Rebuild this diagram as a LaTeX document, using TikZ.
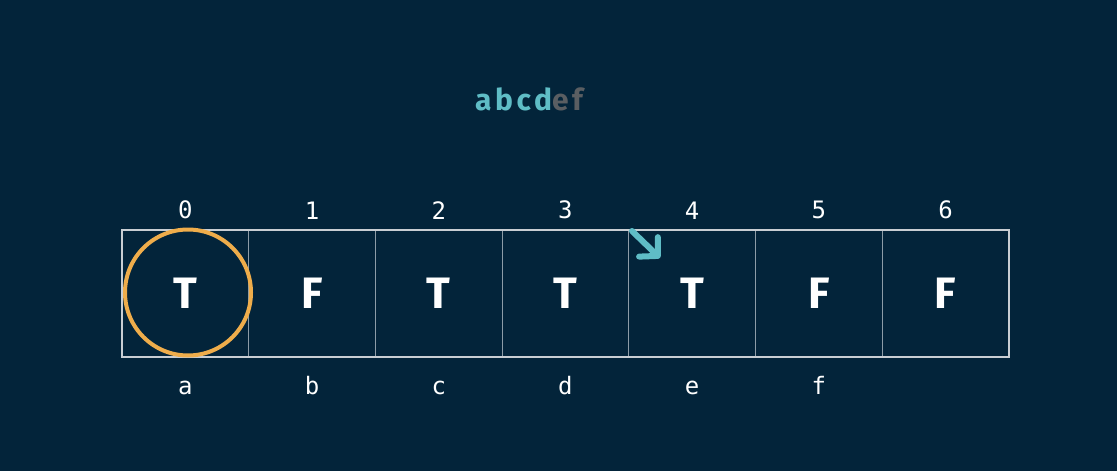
\documentclass[tikz,border=0pt]{standalone}
\usepackage{fontspec}
\setmainfont{Fira Sans}
\setmonofont{DejaVu Sans Mono}
\usetikzlibrary{positioning,arrows.meta}
\definecolor{bgnavy}{HTML}{03243A}
\definecolor{cellline}{HTML}{8D9CA7}
\definecolor{frameline}{HTML}{C9CED3}
\definecolor{tealhi}{HTML}{5FBDC6}
\definecolor{dimgrey}{HTML}{5A5E62}
\definecolor{ringorange}{HTML}{EFAD4B}

\begin{document}
\begin{tikzpicture}[x=1pt, y=-1pt,
    cell/.style={draw=cellline, line width=1pt, minimum width=126.7pt, minimum height=126pt,
      inner sep=0pt, text=white, font=\fontsize{44}{44}\selectfont\bfseries},
    idx/.style={inner sep=0pt, text=white, font=\fontsize{24}{24}\selectfont\ttfamily}]
  \fill[bgnavy] (0,0) rectangle (1117,471);
  \useasboundingbox (0,0) rectangle (1117,471);
  % the word being scanned
  \node[anchor=base, inner sep=0pt, font=\fontsize{30}{30}\selectfont\bfseries\addfontfeature{LetterSpace=12}] (word) at (529,110)
    {\textcolor{tealhi}{abcd}\textcolor{dimgrey}{ef}};
  % the dp table
  \foreach \v [count=\i from 0] in {T,F,T,T,T,F,F}
    \node[cell] (c\i) at ({185.35+126.7*\i},293) {\v};
  \draw[frameline, line width=2pt] (c0.north west) rectangle (c6.south east);
  \foreach \i in {0,...,6}
    \node[idx, above=10pt of c\i] (n\i) {\i};
  \foreach \l [count=\i from 0] in {a,b,c,d,e,f}
    \node[idx, anchor=base] (l\i) at ([yshift=-38pt]c\i.south) {\l};
  % current position
  \node[draw=ringorange, line width=4pt, circle, minimum size=126pt, inner sep=0pt] (ring) at (188,292.5) {};
  \coordinate (ptrA) at (632,231);
  \coordinate (ptrB) at (660,258);
  \draw[tealhi, line width=6pt, line cap=round,
    -{Straight Barb[length=13pt 0,width=27pt 0,round]}] (ptrA) -- (ptrB);
\end{tikzpicture}
\end{document}
